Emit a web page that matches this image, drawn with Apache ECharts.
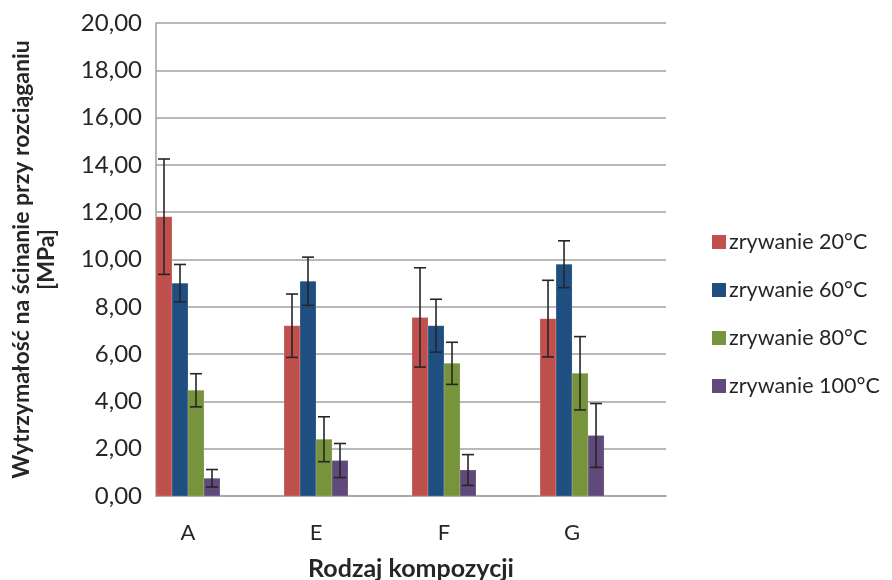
<!DOCTYPE html>
<html><head><meta charset="utf-8">
<script src="https://cdn.jsdelivr.net/npm/echarts@6/dist/echarts.min.js"></script>
<style>html,body{margin:0;padding:0;background:#fff}#c{width:892px;height:580px}</style>
</head><body><div id="c"></div>
<script>
const categories = ['A', 'E', 'F', 'G'];
const seriesNames = ['zrywanie 20°C', 'zrywanie 60°C', 'zrywanie 80°C', 'zrywanie 100°C'];
const values20 = [11.81, 7.20, 7.55, 7.50];
const values60 = [9.00, 9.08, 7.20, 9.80];
const values80 = [4.47, 2.40, 5.61, 5.19];
const values100 = [0.75, 1.50, 1.10, 2.56];
const err20 = [2.44, 1.34, 2.10, 1.62];
const err60 = [0.79, 1.02, 1.12, 0.99];
const err80 = [0.70, 0.95, 0.89, 1.55];
const err100 = [0.37, 0.72, 0.65, 1.35];
const yTicks = [0, 2, 4, 6, 8, 10, 12, 14, 16, 18, 20];

const colors = ['#C0504D', '#1F4F80', '#77933C', '#604A7B'];
const allValues = [values20, values60, values80, values100];
const allErrs = [err20, err60, err80, err100];
const BAR_W = 16;
const FONT = 'Lato, "Open Sans", sans-serif';
const TXT = '#262626';

const chart = echarts.init(document.getElementById('c'), null, {renderer: 'canvas'});

const series = [];
allValues.forEach((vals, s) => {
  series.push({
    name: seriesNames[s], type: 'custom', z: 2,
    itemStyle: {color: colors[s]},
    data: vals.map((v, i) => [i, v]),
    renderItem: function (params, api) {
      const off = (s - 2) * BAR_W;
      const top = api.coord([api.value(0), api.value(1)]);
      const base = api.coord([api.value(0), 0]);
      return {type: 'rect',
        shape: {x: top[0] + off, y: top[1], width: BAR_W, height: base[1] - top[1]},
        style: {fill: colors[s], stroke: 'rgba(255,255,255,0.35)', lineWidth: 0.5}};
    }
  });
});
allValues.forEach((vals, s) => {
  series.push({
    type: 'custom', z: 5, silent: true,
    data: vals.map((v, i) => [i, v - allErrs[s][i], v + allErrs[s][i]]),
    renderItem: function (params, api) {
      const off = (s - 1.5) * BAR_W;
      const lo = api.coord([api.value(0), api.value(1)]);
      const hi = api.coord([api.value(0), api.value(2)]);
      const x = lo[0] + off, cap = 6;
      const st = {stroke: '#262626', lineWidth: 1.6};
      return {type: 'group', children: [
        {type: 'line', shape: {x1: x, y1: lo[1], x2: x, y2: hi[1]}, style: st},
        {type: 'line', shape: {x1: x - cap, y1: lo[1], x2: x + cap, y2: lo[1]}, style: st},
        {type: 'line', shape: {x1: x - cap, y1: hi[1], x2: x + cap, y2: hi[1]}, style: st}
      ]};
    }
  });
});

chart.setOption({
  animation: false,
  backgroundColor: '#fff',
  textStyle: {fontFamily: FONT},
  grid: {left: 156, width: 510, top: 23, height: 473, containLabel: false, outerBoundsMode: 'none'},
  legend: {
    data: seriesNames, orient: 'vertical', left: 707, top: 226,
    itemWidth: 14, itemHeight: 14, itemGap: 26, icon: 'rect',
    textStyle: {fontFamily: FONT, fontSize: 21.5, color: TXT, lineHeight: 20, padding: [0, 0, 0, -2]}
  },
  xAxis: {
    type: 'value', min: -0.25, max: 3.734,
    axisLine: {show: true, onZero: false, lineStyle: {color: '#A0A0A0', width: 1.5}},
    axisTick: {show: false},
    splitLine: {show: false},
    axisLabel: {customValues: [0, 1, 2, 3], formatter: v => categories[Math.round(v)] || '',
      fontSize: 22, color: TXT, margin: 26, fontFamily: FONT},
    name: 'Rodzaj kompozycji', nameLocation: 'middle', nameGap: 60,
    nameTextStyle: {fontSize: 25, fontWeight: 'bold', color: TXT, fontFamily: FONT}
  },
  yAxis: {
    type: 'value', min: 0, max: 20, interval: 2,
    axisLine: {show: true, onZero: false, lineStyle: {color: '#A0A0A0', width: 1.5}},
    axisTick: {show: false},
    splitLine: {lineStyle: {color: '#A0A0A0', width: 1.5}},
    axisLabel: {customValues: yTicks, formatter: v => v.toFixed(2).replace('.', ','), fontSize: 24, color: TXT, margin: 14, fontFamily: FONT},
    name: 'Wytrzymałość na ścinanie przy rozciąganiu\n[MPa]', nameLocation: 'middle', nameRotate: 90, nameGap: 97,
    nameTextStyle: {fontSize: 23, fontWeight: 'bold', color: TXT, fontFamily: FONT, lineHeight: 25}
  },
  series: series
});
</script></body></html>
